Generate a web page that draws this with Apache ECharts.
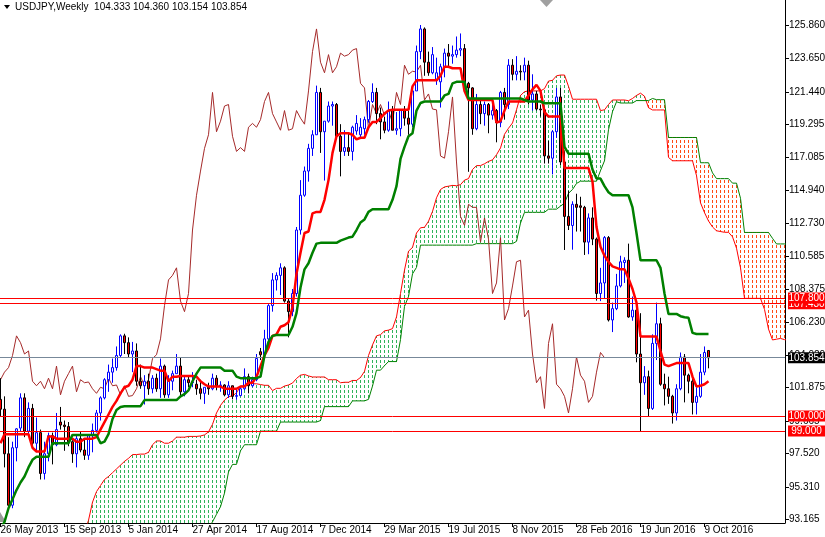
<!DOCTYPE html>
<html><head><meta charset="utf-8">
<script src="https://cdn.jsdelivr.net/npm/echarts@6/dist/echarts.min.js"></script>
<style>html,body{margin:0;padding:0;background:#fff}#c{width:825px;height:537px}</style>
</head><body><div id="c"></div>
<script>
const chartTitle = 'USDJPY,Weekly  104.333 104.360 103.154 103.854';
const xLabelIndex = [0,16,32,48,64,80,96,112,128,144,160,176];
const xLabels = ['26 May 2013','15 Sep 2013','5 Jan 2014','27 Apr 2014','17 Aug 2014','7 Dec 2014','29 Mar 2015','19 Jul 2015','8 Nov 2015','28 Feb 2016','19 Jun 2016','9 Oct 2016'];
const yTicks = [125.860,123.650,121.440,119.295,117.085,114.940,112.730,110.585,108.375,106.230,104.020,101.875,99.665,97.520,95.310,93.165];

// weekly candles, index 0 = 26 May 2013
const open = [
101.1,100.45,97.5,94.1,97.9,99.2,101.2,99.0,100.5,98.2,
98.9,96.2,97.5,98.7,98.1,99.6,99.4,99.3,98.3,97.5,
98.5,97.75,97.4,98.7,99.05,100.2,101.2,102.4,102.9,103.2,
104.0,105.3,104.85,104.1,104.3,102.3,102.0,102.3,101.8,102.5,
101.8,103.3,101.4,102.3,102.8,103.3,101.6,102.4,102.2,102.1,
101.8,101.5,101.9,101.8,102.5,102.0,102.05,101.4,102.0,101.3,
101.35,101.8,102.6,102.0,102.4,104.25,104.05,105.1,107.3,109.0,
109.3,109.8,107.6,106.9,108.1,112.3,114.6,116.2,117.7,118.6,
121.4,118.8,119.5,120.5,120.6,118.5,117.5,117.75,117.5,118.85,
118.6,119.0,119.6,120.8,121.4,120.0,119.45,118.9,120.2,118.9,
119.0,120.2,119.7,119.3,121.5,124.1,125.6,123.4,122.7,122.2,
122.1,123.1,124.0,123.8,123.9,124.2,124.3,122.0,121.7,119.0,
120.6,120.0,120.6,119.9,120.2,119.4,121.4,120.6,123.2,122.6,
122.8,122.75,123.2,120.9,121.3,120.3,120.25,117.2,117.05,118.8,
121.1,116.8,113.2,112.6,114.0,113.9,113.8,111.5,113.1,111.7,
108.1,108.8,111.8,106.35,107.1,108.6,110.15,110.3,106.55,107.0,
104.1,102.2,102.6,100.5,104.8,106.1,102.1,101.8,101.3,100.2,
101.8,103.9,102.7,102.3,100.9,101.3,102.9,104.333];
const high = [
102.5,101.3,98.6,98.3,99.2,101.5,101.5,100.9,100.8,99.9,
99.1,98.3,98.9,98.9,100.2,100.6,99.7,99.6,98.4,98.8,
99.0,98.5,98.8,99.5,100.4,101.3,102.5,103.4,103.8,104.6,
105.4,105.44,105.2,104.9,104.8,103.4,102.7,102.8,102.7,102.8,
103.8,103.4,102.7,103.0,104.1,103.9,102.6,102.7,102.9,102.4,
102.4,101.9,102.2,102.8,102.7,102.3,102.1,102.3,102.0,101.8,
101.9,103.15,102.8,102.6,104.1,104.5,105.7,107.4,109.45,109.5,
110.1,109.9,107.8,108.4,112.5,115.6,116.5,118.0,118.9,121.85,
121.7,119.5,120.8,120.8,120.7,119.3,118.9,118.7,119.2,119.9,
119.7,119.8,120.9,122.0,121.7,120.4,119.8,120.8,120.5,120.1,
120.3,120.5,120.2,121.8,124.5,125.86,125.7,124.1,124.4,123.7,
123.3,124.3,124.6,124.5,125.1,125.3,124.6,122.1,121.75,121.3,
121.0,120.8,120.7,120.6,120.3,121.5,121.7,123.6,123.6,123.8,
123.2,123.7,123.5,122.6,121.5,120.6,120.3,118.2,118.9,121.7,
121.7,117.5,114.9,114.2,114.7,114.5,113.9,113.4,113.8,111.8,
109.8,111.9,111.9,107.5,109.4,110.6,110.5,111.4,107.9,107.05,
106.8,103.3,103.0,105.4,107.5,106.5,102.8,102.6,101.4,102.1,
104.2,104.1,102.8,102.8,101.9,104.1,104.6,104.360];
const low = [
100.0,96.6,93.9,93.9,97.0,99.0,98.6,98.8,97.9,97.6,
95.8,95.8,97.0,96.8,98.0,99.1,97.7,98.0,96.9,96.6,
97.6,97.1,97.1,97.6,98.9,99.7,101.1,101.6,102.2,103.0,
103.9,104.1,103.9,102.9,102.0,101.8,100.76,101.4,101.5,101.6,
101.2,101.2,101.2,101.7,102.8,101.3,101.3,101.9,101.9,101.4,
101.1,100.8,101.4,101.7,101.7,101.6,101.3,101.2,101.1,101.07,
101.3,101.7,101.5,101.9,102.3,103.7,104.0,104.9,106.9,108.3,
108.0,107.5,105.2,106.6,107.9,112.0,114.5,115.5,117.2,118.6,
117.4,115.57,119.4,119.2,118.3,115.85,117.2,117.2,116.9,118.6,
118.4,118.6,119.4,120.7,119.3,118.3,118.7,118.8,118.9,118.6,
118.5,119.2,118.6,119.1,121.5,123.6,122.5,122.5,122.6,121.9,
120.4,122.4,123.1,123.3,123.7,123.8,121.9,116.15,118.6,118.9,
119.3,119.2,118.7,119.6,118.1,119.1,119.6,120.3,122.2,122.2,
122.2,122.2,120.6,120.2,120.2,119.8,116.7,116.7,115.98,118.4,
116.6,110.98,112.3,111.0,112.2,112.2,110.65,110.7,111.3,107.63,
107.6,107.8,106.25,105.55,107.0,108.5,108.8,106.5,106.3,103.55,
99.0,101.4,99.99,100.4,103.7,102.0,100.7,100.8,99.5,99.7,
101.7,100.9,101.5,100.1,100.1,101.2,102.7,103.154];
const close = [
100.45,97.5,94.1,97.9,99.15,101.2,99.0,100.5,98.2,98.9,
96.2,97.5,98.7,98.1,99.1,99.4,99.3,98.3,97.5,98.5,
97.75,97.4,98.7,99.05,100.2,101.2,102.4,102.9,103.2,104.0,
105.3,104.85,104.1,104.3,102.3,102.0,102.3,101.8,102.5,101.8,
103.3,101.4,102.3,102.8,103.3,101.6,102.4,102.2,102.25,101.8,
101.5,101.9,101.8,102.5,102.0,102.05,101.4,102.0,101.3,101.35,
101.8,102.6,102.0,102.4,103.8,104.05,105.1,107.3,109.0,109.3,
109.8,107.6,106.9,108.1,112.3,114.6,116.2,117.7,118.6,121.4,
118.8,119.5,120.5,120.6,118.5,117.5,117.75,117.5,119.1,119.35,
119.1,119.6,120.8,121.4,120.0,119.45,118.9,120.2,118.9,119.0,
120.2,119.7,119.3,121.5,124.1,125.6,123.4,122.7,123.9,122.7,
123.1,124.0,123.8,123.9,124.2,124.3,122.0,121.7,119.0,120.6,
120.0,120.6,119.9,120.2,119.4,121.4,120.6,123.2,122.6,122.8,
122.75,123.2,120.9,121.3,120.3,120.25,117.2,117.05,118.8,121.1,
116.8,113.2,112.6,114.0,113.8,113.8,111.5,113.1,111.7,108.1,
108.8,111.8,106.35,107.1,108.6,110.2,110.3,106.55,107.0,104.1,
102.2,102.6,100.5,104.8,106.1,102.1,101.8,101.3,100.2,101.8,
103.9,102.7,102.3,100.9,101.3,102.9,104.2,103.854];

const tenkan = [
98.2,98.8,98.8,98.8,98.8,98.8,98.8,98.8,97.9,97.65,
97.65,97.65,98.65,98.65,98.5,98.5,98.5,98.5,98.5,98.3,
98.3,98.5,98.5,98.5,98.6,99.1,99.6,100.1,100.6,101.0,
101.5,101.9,102.0,102.4,103.3,103.3,103.2,103.2,103.2,103.1,
103.0,103.0,102.3,102.6,102.6,102.65,102.65,102.65,102.65,102.6,
102.3,102.1,101.95,101.95,101.95,101.95,101.8,101.8,101.8,101.8,
101.95,101.95,102.2,102.2,102.6,103.3,104.0,104.5,105.3,105.4,
105.9,106.0,106.2,107.2,109.4,110.8,112.1,112.2,113.4,113.5,
113.5,114.3,115.6,117.4,118.5,118.7,118.7,118.7,118.6,118.3,
118.4,118.4,119.1,119.45,119.45,119.7,120.0,120.2,120.25,120.25,
120.25,120.25,120.25,121.8,122.2,122.2,122.2,122.2,122.2,122.2,
122.5,123.1,123.1,123.0,123.0,123.0,121.5,120.9,120.9,120.9,
120.9,120.9,120.9,120.9,119.4,119.5,120.2,120.8,120.8,120.8,
120.8,120.8,121.2,121.6,121.9,121.5,120.1,119.8,119.8,119.8,
119.8,116.4,116.4,116.4,116.4,116.4,116.4,116.4,115.5,112.5,
111.2,110.6,110.2,109.9,109.8,109.7,109.7,109.1,108.4,107.5,
105.25,105.25,105.25,105.25,105.25,104.3,103.4,103.3,103.4,103.5,
103.5,103.5,103.5,102.6,101.95,102.0,102.1,102.3];
const kijun = [
92.5,93.0,93.9,94.5,95.1,95.6,96.0,96.6,97.1,97.3,
97.3,97.3,97.3,98.2,98.2,98.2,98.2,98.2,98.75,98.75,
98.75,98.75,98.75,98.75,98.75,98.2,98.3,98.8,99.8,100.4,
100.6,100.65,100.65,100.65,100.65,100.65,101.05,101.05,101.05,101.05,
101.05,101.05,101.05,101.05,101.05,101.3,101.45,101.7,102.3,102.8,
103.2,103.2,103.2,103.2,103.2,103.2,103.0,103.0,103.0,102.6,
102.5,102.5,102.5,102.5,102.5,102.6,104.0,104.9,105.3,105.36,
105.36,105.36,105.36,105.9,106.8,108.5,109.7,110.1,110.8,111.4,
111.45,111.45,111.45,111.45,111.45,111.6,111.7,111.8,111.86,112.3,
112.8,113.0,113.5,113.67,113.67,113.67,113.67,113.67,114.3,115.2,
117.0,117.8,118.5,118.7,120.2,120.7,120.8,120.8,120.8,120.8,
120.8,121.2,121.3,122.0,122.1,122.1,122.1,121.0,121.0,121.0,
121.0,121.0,121.0,121.0,121.0,121.0,121.0,121.0,121.0,121.0,
121.0,120.9,120.8,120.8,120.8,120.8,120.68,120.68,120.68,120.68,
120.68,117.8,117.35,117.35,117.35,117.35,117.35,117.35,116.3,115.7,
115.7,115.2,114.8,114.6,114.6,114.6,114.6,114.6,113.8,112.1,
110.3,110.3,110.3,110.3,110.3,109.8,108.1,106.75,106.75,106.75,
106.6,106.53,106.5,105.5,105.42,105.42,105.42,105.42];

// Senkou spans (already plotted 26 weeks ahead), first value at index 20
const spanStart = 20;
const spanA = [
91.5,92.3,93.1,94.3,95.0,95.4,95.8,96.0,96.25,96.5,
96.75,97.0,97.2,97.45,97.45,97.48,97.48,97.6,98.1,98.35,
98.35,98.2,98.2,98.35,98.6,98.6,98.6,98.65,98.65,98.65,
98.68,98.75,98.95,99.45,100.2,100.7,101.05,101.28,101.33,101.53,
101.98,101.98,102.13,102.13,102.13,102.08,102.03,102.03,101.68,101.83,
101.83,101.98,102.05,102.18,102.48,102.7,102.75,102.65,102.58,102.58,
102.58,102.58,102.4,102.4,102.4,102.2,102.23,102.23,102.35,102.35,
102.55,102.95,104.0,104.7,105.3,105.38,105.63,105.68,105.78,106.55,
108.1,109.65,110.9,111.15,112.1,112.45,112.48,112.88,113.53,114.43,
114.98,115.15,115.2,115.25,115.23,115.3,115.6,115.7,116.3,116.56,
116.56,116.68,116.84,116.94,117.28,117.73,118.63,119.03,119.38,120.25,
121.2,121.45,121.5,121.5,121.5,121.5,121.65,122.15,122.2,122.5,
122.55,122.55,121.8,120.95,120.95,120.95,120.95,120.95,120.95,120.95,
120.2,120.25,120.6,120.9,120.9,120.9,120.9,120.85,121.0,121.2,
121.35,121.15,120.39,120.24,120.24,120.24,120.24,117.1,116.88,116.88,
116.88,116.88,116.88,116.88,115.9,114.1,113.45,112.9,112.5,112.25,
112.2,112.15,112.15,111.85,111.1,109.8,107.78,107.78,107.78,107.78,
107.78,107.05,105.75,105.03,105.08,105.13,105.05,105.02,105.0,104.05,
103.69,103.71,103.76,103.86];
const spanB = [
88.6,88.6,88.6,88.6,88.6,88.6,88.6,88.6,88.6,88.6,
88.6,90.4,90.4,90.4,90.4,90.4,90.4,90.4,90.4,90.4,
90.4,90.4,90.4,90.4,90.4,90.4,90.4,91.5,91.6,91.8,
92.0,92.3,92.6,93.0,93.5,94.0,94.9,96.3,96.8,96.8,
97.7,98.1,98.1,98.1,98.1,99.0,99.0,99.0,99.0,99.0,
99.6,99.6,99.6,99.6,99.6,99.6,99.6,99.6,99.6,99.6,
99.7,100.62,100.62,100.62,100.62,100.62,100.62,100.62,101.0,101.0,
101.0,101.0,101.1,101.98,103.03,103.03,103.33,103.6,103.6,103.6,
105.05,107.25,107.9,109.4,109.83,111.3,111.3,111.3,111.3,111.3,
111.3,111.3,111.3,111.3,111.3,111.3,111.3,111.3,111.3,111.4,
111.4,111.4,111.4,111.4,111.4,111.4,111.4,111.4,111.4,111.55,
112.76,113.47,113.47,113.47,113.47,113.47,113.47,113.68,113.68,113.68,
113.88,114.08,114.73,114.98,115.38,115.53,115.53,115.53,115.53,115.53,
116.23,116.88,118.93,120.13,120.78,120.7,120.7,120.7,120.7,120.86,
120.86,120.86,120.86,121.0,120.92,120.92,120.92,118.42,118.42,118.42,
118.42,118.42,118.42,118.42,118.42,116.75,116.75,116.75,116.08,115.7,
115.7,115.7,115.7,115.4,115.4,114.4,112.14,112.14,112.14,112.14,
112.14,112.14,112.14,111.75,111.38,111.38,111.38,111.38,111.38,111.38,
111.38,111.38,111.38,111.38];

const chikouShift = 26;
const levelsRed = [107.43, 107.8, 100.0, 99.0];
const lastPrice = 103.854;

const FONT = "'Liberation Sans',Arial,sans-serif";

const candleData = close.map((c, i) => [i, open[i], c, low[i], high[i]]);
const tenkanData = tenkan.map((v, i) => [i, v]);
const kijunData = kijun.map((v, i) => [i, v]);
const chikouData = [];
close.forEach((c, j) => { if (j - chikouShift >= -1) chikouData.push([j - chikouShift, c]); });
const spanAData = spanA.map((v, k) => [spanStart + k, v]);
const spanBData = spanB.map((v, k) => [spanStart + k, v]);
const cloudData = spanA.map((v, k) => [spanStart + k, v, spanB[k]]);

// MT4-style dotted histogram between the two spans
function renderCloud(params, api) {
  const i = api.value(0), a = api.value(1), b = api.value(2);
  const pa = api.coord([i, a]), pb = api.coord([i, b]);
  const cs = params.coordSys;
  const yTop = Math.max(Math.min(pa[1], pb[1]), cs.y);
  const yBot = Math.min(Math.max(pa[1], pb[1]), cs.y + cs.height);
  const x = Math.floor(pa[0]);
  const children = [];
  if (yBot > yTop && x >= cs.x && x < cs.x + cs.width) {
    const color = a >= b ? '#2fb45a' : '#ff4a12';
    const t = Math.round(yTop), bt = Math.round(yBot);
    for (let y = Math.floor(t / 5) * 5; y < bt; y += 5) {
      const s = Math.max(y, t), e = Math.min(y + 3, bt);
      if (e > s) children.push({ type: 'rect', shape: { x: x, y: s, width: 1, height: e - s }, style: { fill: color } });
    }
  }
  return { type: 'group', silent: true, children: children };
}

const markData = [];
levelsRed.forEach(v => markData.push({ yAxis: v, lineStyle: { color: '#ff0000' }, label: { backgroundColor: '#ff0000' } }));
markData.push({ yAxis: lastPrice, lineStyle: { color: '#778899' }, label: { backgroundColor: '#000000' } });

const chart = echarts.init(document.getElementById('c'), null, { renderer: 'canvas' });
chart.setOption({
  animation: false,
  backgroundColor: '#ffffff',
  title: { text: chartTitle, left: 15, top: 2, padding: 0,
    textStyle: { fontSize: 10, fontWeight: 'normal', color: '#000', fontFamily: FONT } },
  graphic: [
    { type: 'polygon', shape: { points: [[4, 5], [10, 5], [7, 9]] }, style: { fill: '#000' }, silent: true },
    { type: 'polygon', shape: { points: [[540, 0], [553, 0], [546.5, 7]] }, style: { fill: '#a0a0a0' }, silent: true },
    { type: 'polygon', shape: { points: [[0, 512], [6, 522], [0, 522]] }, style: { fill: '#9a9a9a' }, silent: true }
  ],
  grid: { left: 0, right: 40, top: 0, bottom: 14, containLabel: false, outerBoundsMode: 'none' },
  xAxis: {
    type: 'value', min: -0.125, max: 196.125,
    axisLine: { show: true, onZero: false, lineStyle: { color: '#000', width: 1 } },
    axisTick: { show: true, customValues: xLabelIndex, length: 4, lineStyle: { color: '#000' } },
    axisLabel: { show: true, customValues: xLabelIndex, margin: 2, align: 'left', hideOverlap: false,
      showMinLabel: true, showMaxLabel: true,
      fontSize: 10, fontFamily: FONT, color: '#000',
      formatter: v => { const k = xLabelIndex.indexOf(Math.round(v)); return k >= 0 ? xLabels[k] : ''; } },
    splitLine: { show: false }
  },
  yAxis: {
    type: 'value', position: 'right', min: 92.923, max: 127.513,
    axisLine: { show: true, onZero: false, lineStyle: { color: '#000', width: 1 } },
    axisTick: { show: true, customValues: yTicks, length: 4, lineStyle: { color: '#000' } },
    axisLabel: { show: true, customValues: yTicks, margin: 4, fontSize: 10, fontFamily: FONT, color: '#000',
      hideOverlap: false, formatter: v => Number(v).toFixed(3) },
    splitLine: { show: false }
  },
  series: [
    { type: 'custom', name: 'cloud', data: cloudData, renderItem: renderCloud, z: 1,
      encode: { x: 0, y: [1, 2] }, silent: true },
    { type: 'line', name: 'Senkou A', data: spanAData, symbol: 'none', z: 2, silent: true,
      lineStyle: { color: '#ff0000', width: 1 } },
    { type: 'line', name: 'Senkou B', data: spanBData, symbol: 'none', z: 2, silent: true,
      lineStyle: { color: '#008000', width: 1 } },
    { type: 'line', name: 'Chikou', data: chikouData, symbol: 'none', z: 3, silent: true,
      lineStyle: { color: '#a52a2a', width: 1 },
      markLine: { silent: true, symbol: 'none', animation: false, precision: 3,
        lineStyle: { type: 'solid', width: 1 },
        label: { show: true, position: 'end', distance: 3, padding: [1, 1, 0, 1],
          formatter: p => '{v|' + Number(p.value).toFixed(3) + '}',
          rich: { v: { width: 35, align: 'center', color: '#fff', fontSize: 10, fontFamily: FONT, lineHeight: 10 } } },
        data: markData } },
    { type: 'candlestick', name: 'USDJPY', data: candleData, z: 4, silent: true,
      encode: { x: 0, y: [1, 2, 3, 4] }, barWidth: 3,
      itemStyle: { color: '#ffffff', color0: '#ff0000', borderColor: '#0000ff', borderColor0: '#000000', borderWidth: 1 } },
    { type: 'line', name: 'Tenkan', data: tenkanData, symbol: 'none', z: 5, silent: true,
      lineStyle: { color: '#ff0000', width: 2.5 } },
    { type: 'line', name: 'Kijun', data: kijunData, symbol: 'none', z: 5, silent: true,
      lineStyle: { color: '#008000', width: 2.5 } }
  ]
});
</script>
</body></html>
